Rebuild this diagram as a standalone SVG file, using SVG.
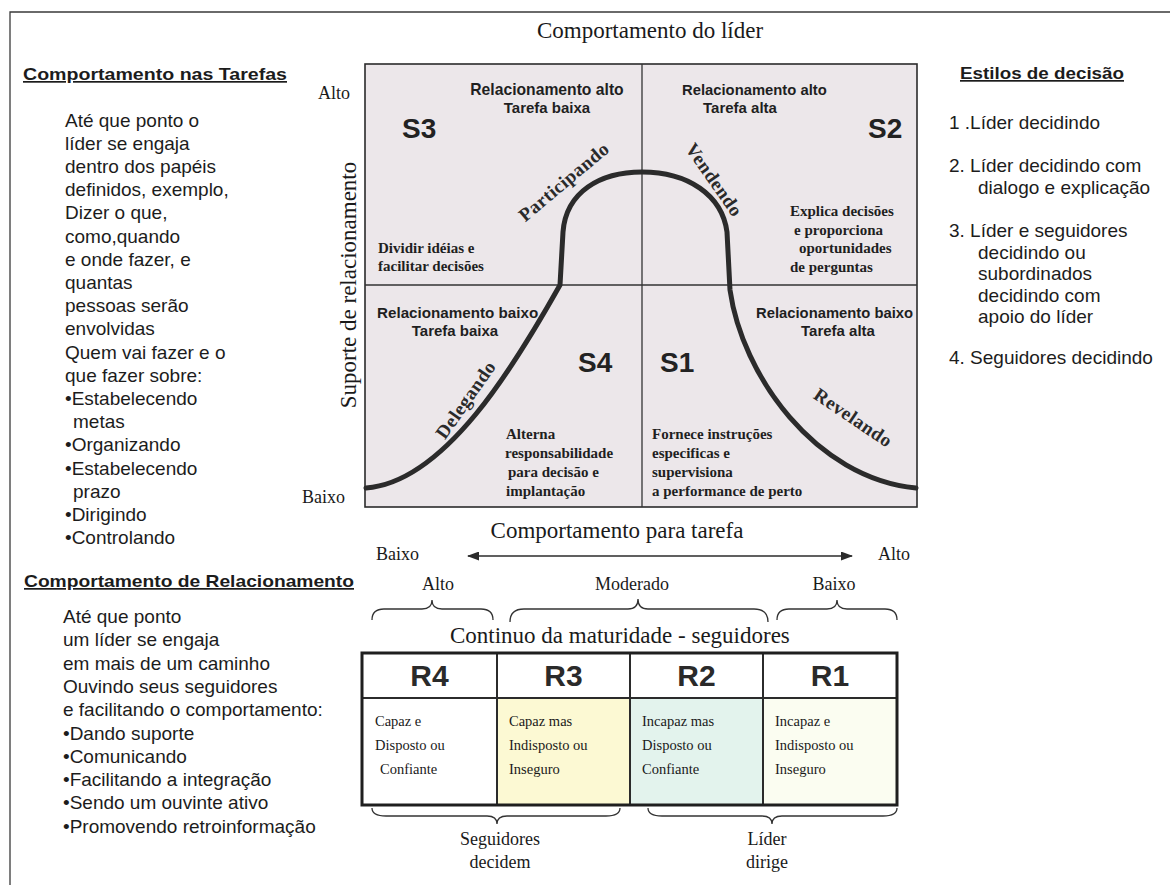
<svg xmlns="http://www.w3.org/2000/svg" width="1170" height="885" viewBox="0 0 1170 885">
  <defs>
    <style>
      .hd { font-family: "Liberation Sans", Arial, sans-serif; font-weight: bold; font-size: 17px; fill: #1c1c1c; text-decoration: underline; }
      .bd { font-family: "Liberation Sans", Arial, sans-serif; font-size: 19px; fill: #1c1c1c; }
      .ql { font-family: "Liberation Sans", Arial, sans-serif; font-weight: bold; fill: #1f1f1f; }
      .sl { font-family: "Liberation Sans", Arial, sans-serif; font-weight: bold; font-size: 28px; fill: #222; }
      .nt { font-family: "Liberation Serif", "Times New Roman", serif; font-weight: bold; font-size: 15px; fill: #1f1f1f; }
      .cv { font-family: "Liberation Serif", "Times New Roman", serif; font-weight: bold; font-size: 19px; fill: #2a2a2a; letter-spacing: 0.5px; }
      .tt { font-family: "Liberation Serif", "Times New Roman", serif; font-size: 23px; fill: #1a1a1a; }
      .ax { font-family: "Liberation Serif", "Times New Roman", serif; font-size: 18px; fill: #1a1a1a; }
      .rh { font-family: "Liberation Sans", Arial, sans-serif; font-weight: bold; font-size: 30px; fill: #2a2a2a; }
      .ce { font-family: "Liberation Serif", "Times New Roman", serif; font-size: 14.5px; fill: #1a1a1a; }
      .ln { stroke: #2b2b2b; fill: none; }
      .br { stroke: #333; stroke-width: 1.3; fill: none; }
    </style>
    <marker id="ah" viewBox="0 0 12 9" refX="11" refY="4.5" markerWidth="12" markerHeight="9" markerUnits="userSpaceOnUse" orient="auto-start-reverse">
      <path d="M0,0 L12,4.5 L0,9 z" fill="#2b2b2b"/>
    </marker>
  </defs>

  <rect width="1170" height="885" fill="#ffffff"/>
  <!-- page frame: top and left rules -->
  <path d="M10,885 L10,12 L1170,12" stroke="#3a3a3a" stroke-width="1.3" fill="none"/>

  <!-- left column: task behaviour -->
  <g id="task-behaviour">
    <text class="hd" x="23" y="80" textLength="264" lengthAdjust="spacingAndGlyphs">Comportamento nas Tarefas</text>
    <text class="bd" x="65" y="126.5">Até que ponto o</text>
    <text class="bd" x="65" y="149.7">líder  se engaja</text>
    <text class="bd" x="65" y="172.9">dentro dos papéis</text>
    <text class="bd" x="65" y="196.1">definidos, exemplo,</text>
    <text class="bd" x="65" y="219.3">Dizer o que,</text>
    <text class="bd" x="65" y="242.5">como,quando</text>
    <text class="bd" x="65" y="265.7">e onde fazer, e</text>
    <text class="bd" x="65" y="288.9">quantas</text>
    <text class="bd" x="65" y="312.1">pessoas serão</text>
    <text class="bd" x="65" y="335.3">envolvidas</text>
    <text class="bd" x="65" y="358.5">Quem vai fazer e o</text>
    <text class="bd" x="65" y="381.7">que fazer sobre:</text>
    <text class="bd" x="65" y="404.9">•Estabelecendo</text>
    <text class="bd" x="73" y="428.1">metas</text>
    <text class="bd" x="65" y="451.3">•Organizando</text>
    <text class="bd" x="65" y="474.5">•Estabelecendo</text>
    <text class="bd" x="73" y="497.7">prazo</text>
    <text class="bd" x="65" y="520.9">•Dirigindo</text>
    <text class="bd" x="65" y="544.1">•Controlando</text>
  </g>

  <!-- left column: relationship behaviour -->
  <g id="relationship-behaviour">
    <text class="hd" x="24" y="587" textLength="330" lengthAdjust="spacingAndGlyphs">Comportamento de Relacionamento</text>
    <text class="bd" x="63" y="623">Até que ponto</text>
    <text class="bd" x="63" y="646.3">um líder se engaja</text>
    <text class="bd" x="63" y="669.6">em mais de um caminho</text>
    <text class="bd" x="63" y="692.9">Ouvindo seus seguidores</text>
    <text class="bd" x="63" y="716.2">e facilitando o comportamento:</text>
    <text class="bd" x="63" y="739.5">•Dando suporte</text>
    <text class="bd" x="63" y="762.8">•Comunicando</text>
    <text class="bd" x="63" y="786.1">•Facilitando a integração</text>
    <text class="bd" x="63" y="809.4">•Sendo um ouvinte ativo</text>
    <text class="bd" x="63" y="832.7">•Promovendo retroinformação</text>
  </g>

  <!-- right column: decision styles -->
  <g id="decision-styles">
    <text class="hd" x="960" y="79" textLength="164" lengthAdjust="spacingAndGlyphs">Estilos de decisão</text>
    <text class="bd" x="949" y="129">1 .Líder decidindo</text>
    <text class="bd" x="949" y="172">2. Líder decidindo com</text>
    <text class="bd" x="978" y="193.6">dialogo e explicação</text>
    <text class="bd" x="949" y="237">3. Líder e seguidores</text>
    <text class="bd" x="978" y="258.6">decidindo ou</text>
    <text class="bd" x="978" y="280.2">subordinados</text>
    <text class="bd" x="978" y="301.8">decidindo com</text>
    <text class="bd" x="978" y="323.4">apoio do líder</text>
    <text class="bd" x="949" y="364">4. Seguidores decidindo</text>
  </g>

  <!-- leadership grid -->
  <g id="leader-grid">
    <text class="tt" x="650" y="38" text-anchor="middle">Comportamento do líder</text>
    <rect x="365" y="64" width="552" height="443" fill="#ece7ea" stroke="#2b2b2b" stroke-width="1.6"/>
    <line x1="642" y1="64" x2="642" y2="507" stroke="#333" stroke-width="1.3"/>
    <line x1="365" y1="285" x2="917" y2="285" stroke="#333" stroke-width="1.3"/>
    <text class="ax" x="318" y="99" font-size="17">Alto</text>
    <text class="ax" x="302" y="503" font-size="17">Baixo</text>
    <text class="tt" transform="translate(356,285) rotate(-90)" text-anchor="middle" font-size="22">Suporte de relacionamento</text>
  </g>

  <g id="quadrant-s3">
    <text class="ql" x="547" y="95" text-anchor="middle" font-size="15.7">Relacionamento alto</text>
    <text class="ql" x="547" y="113" text-anchor="middle" font-size="15">Tarefa baixa</text>
    <text class="sl" x="402" y="138">S3</text>
    <text class="nt" x="378" y="253">Dividir idéias e</text>
    <text class="nt" x="378" y="271">facilitar decisões</text>
  </g>

  <g id="quadrant-s2">
    <text class="ql" x="682" y="95" font-size="14.8">Relacionamento alto</text>
    <text class="ql" x="740" y="113" text-anchor="middle" font-size="15">Tarefa alta</text>
    <text class="sl" x="868" y="138">S2</text>
    <text class="nt" x="790" y="216">Explica decisões</text>
    <text class="nt" x="794" y="234.5">e proporciona</text>
    <text class="nt" x="799" y="253">oportunidades</text>
    <text class="nt" x="790" y="271.5">de perguntas</text>
  </g>

  <g id="quadrant-s4">
    <text class="ql" x="377" y="318" font-size="15.2">Relacionamento baixo</text>
    <text class="ql" x="455" y="336" text-anchor="middle" font-size="15">Tarefa baixa</text>
    <text class="sl" x="578" y="372">S4</text>
    <text class="nt" x="506" y="439">Alterna</text>
    <text class="nt" x="505" y="458">responsabilidade</text>
    <text class="nt" x="508" y="477">para decisão e</text>
    <text class="nt" x="506" y="496">implantação</text>
  </g>

  <g id="quadrant-s1">
    <text class="ql" x="756" y="318" font-size="14.8">Relacionamento baixo</text>
    <text class="ql" x="838" y="336" text-anchor="middle" font-size="15">Tarefa alta</text>
    <text class="sl" x="660" y="372">S1</text>
    <text class="nt" x="652" y="439">Fornece instruções</text>
    <text class="nt" x="652" y="458">especificas e</text>
    <text class="nt" x="652" y="477">supervisiona</text>
    <text class="nt" x="652" y="496">a performance de perto</text>
  </g>

  <!-- bell-shaped style curve with its labels -->
  <g id="style-curve">
    <path class="ln" stroke-width="5" stroke-linecap="round" stroke-linejoin="round"
          d="M366,488 C445,482 515,365 560,285 L563,232 C566,192 600,172 642,172 C688,172 722,195 727,232 L730,290 C742,375 815,478 916,488"/>
    <text class="cv" transform="translate(564,182) rotate(-40)" text-anchor="middle" y="6">Participando</text>
    <text class="cv" transform="translate(714,180) rotate(55)" text-anchor="middle" y="6">Vendendo</text>
    <text class="cv" transform="translate(466,400) rotate(-55)" text-anchor="middle" y="6">Delegando</text>
    <text class="cv" transform="translate(853,418) rotate(34)" text-anchor="middle" y="6">Revelando</text>
  </g>

  <!-- task behaviour axis -->
  <g id="task-axis">
    <text class="tt" x="617" y="538" text-anchor="middle">Comportamento para tarefa</text>
    <text class="ax" x="376" y="560" font-size="19">Baixo</text>
    <text class="ax" x="878" y="560" font-size="19">Alto</text>
  </g>

  <!-- maturity labels -->
  <g id="maturity-labels">
    <text class="ax" x="438" y="590" text-anchor="middle">Alto</text>
    <text class="ax" x="632" y="590" text-anchor="middle">Moderado</text>
    <text class="ax" x="834" y="590" text-anchor="middle">Baixo</text>
    <text class="tt" x="450" y="643">Continuo da maturidade - seguidores</text>
  </g>

  <!-- maturity table -->
  <g id="maturity-table">
    <rect x="362" y="698" width="135" height="107" fill="#ffffff"/>
    <rect x="497" y="698" width="133" height="107" fill="#fcf9d3"/>
    <rect x="630" y="698" width="133" height="107" fill="#e3f3ed"/>
    <rect x="763" y="698" width="134" height="107" fill="#fbfdf1"/>
    <line x1="362" y1="698" x2="897" y2="698" stroke="#2b2b2b" stroke-width="2"/>
    <line x1="497" y1="653" x2="497" y2="805" stroke="#2b2b2b" stroke-width="2"/>
    <line x1="630" y1="653" x2="630" y2="805" stroke="#2b2b2b" stroke-width="2"/>
    <line x1="763" y1="653" x2="763" y2="805" stroke="#2b2b2b" stroke-width="2"/>
    <rect x="362" y="653" width="535" height="152" fill="none" stroke="#1f1f1f" stroke-width="3"/>
  </g>

  <g id="r4">
    <text class="rh" x="429.5" y="686" text-anchor="middle">R4</text>
    <text class="ce" x="375" y="726">Capaz e</text>
    <text class="ce" x="375" y="750">Disposto ou</text>
    <text class="ce" x="380" y="774">Confiante</text>
  </g>
  <g id="r3">
    <text class="rh" x="563.5" y="686" text-anchor="middle">R3</text>
    <text class="ce" x="509" y="726">Capaz mas</text>
    <text class="ce" x="509" y="750">Indisposto ou</text>
    <text class="ce" x="509" y="774">Inseguro</text>
  </g>
  <g id="r2">
    <text class="rh" x="696.5" y="686" text-anchor="middle">R2</text>
    <text class="ce" x="642" y="726">Incapaz mas</text>
    <text class="ce" x="642" y="750">Disposto ou</text>
    <text class="ce" x="642" y="774">Confiante</text>
  </g>
  <g id="r1">
    <text class="rh" x="830" y="686" text-anchor="middle">R1</text>
    <text class="ce" x="775" y="726">Incapaz e</text>
    <text class="ce" x="775" y="750">Indisposto ou</text>
    <text class="ce" x="775" y="774">Inseguro</text>
  </g>

  <g id="decision-owners">
    <text class="ax" x="500" y="845" text-anchor="middle" font-size="18.5">Seguidores</text>
    <text class="ax" x="500" y="868" text-anchor="middle" font-size="18.5">decidem</text>
    <text class="ax" x="767" y="845" text-anchor="middle" font-size="18.5">Líder</text>
    <text class="ax" x="767" y="868" text-anchor="middle" font-size="18.5">dirige</text>
  </g>

  <!-- connectors: task arrow and grouping braces -->
  <g id="connectors">
    <line x1="468" y1="556" x2="852" y2="556" stroke="#2b2b2b" stroke-width="1.6" marker-start="url(#ah)" marker-end="url(#ah)"/>
    <path class="br" d="M372,620 Q372,609 384,609 L422,609 Q432,609 432,600 Q432,609 442,609 L481,609 Q493,609 493,620"/>
    <path class="br" d="M510,622 Q510,609 524,609 L628,609 Q638,609 638,599 Q638,609 648,609 L754,609 Q768,609 768,622"/>
    <path class="br" d="M777,620 Q777,609 789,609 L827,609 Q837,609 837,600 Q837,609 847,609 L885,609 Q897,609 897,620"/>
    <path class="br" d="M372,808 Q372,816 386,816 L487,816 Q497,816 497,824 Q497,816 507,816 L606,816 Q620,816 620,808"/>
    <path class="br" d="M648,808 Q648,816 662,816 L762,816 Q772,816 772,824 Q772,816 782,816 L883,816 Q897,816 897,808"/>
  </g>
</svg>
